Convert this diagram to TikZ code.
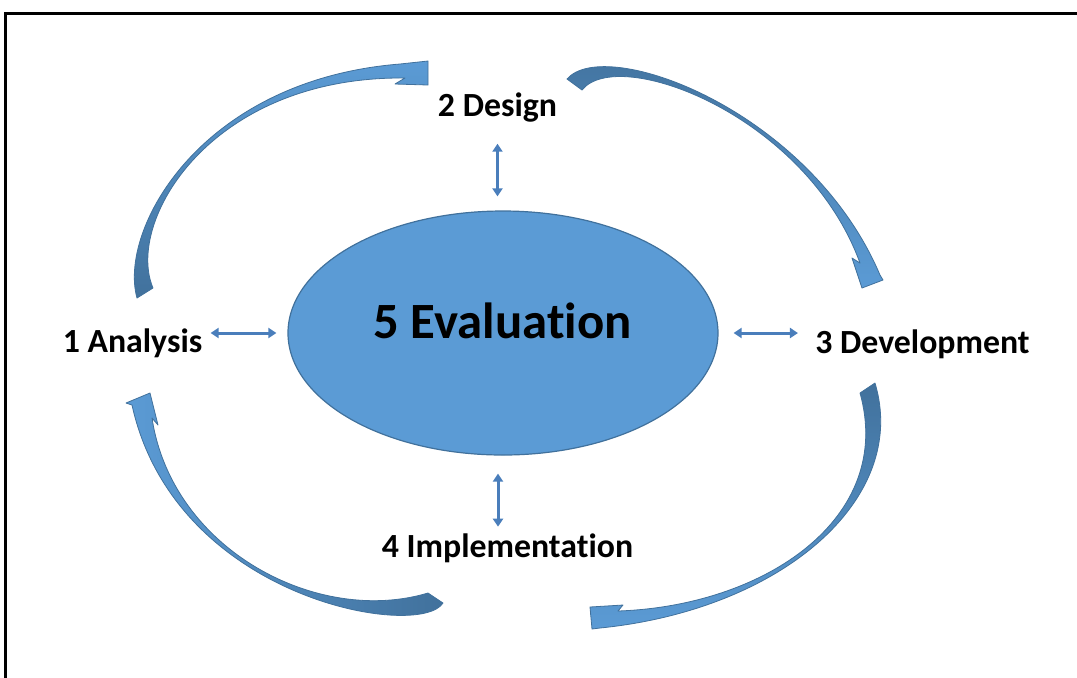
\documentclass[tikz,border=0pt]{standalone}
\usepackage{fontspec}
\setmainfont{Carlito}[Ligatures=NoCommon]
\usetikzlibrary{arrows.meta, positioning, shapes.geometric}

\definecolor{evalblue}{HTML}{5B9BD5}
\definecolor{rimblue}{HTML}{41719C}
\definecolor{linkblue}{HTML}{4A7EBB}

\tikzset{
  stage/.style={font=\fontsize{16.9}{20}\selectfont\bfseries, inner sep=0pt},
  hub/.style={ellipse, fill=evalblue, draw=rimblue, line width=0.6pt,
    minimum width=215pt, minimum height=122pt, inner sep=0pt},
  link/.style={draw=linkblue, line width=1.5pt,
    {Triangle[length=4pt,width=5pt]}-{Triangle[length=4pt,width=5pt]}},
  flow/.style={draw=rimblue, line width=0.4pt, line join=round}
}

\begin{document}
\begin{tikzpicture}[x=0.5pt, y=-0.5pt]
  \useasboundingbox (0,0) rectangle (1077,677);
  \draw[line width=1.5pt] (5.5,13.5) rectangle (1100,700);

  \node (eval) [hub] at (503,333) {};
  \node (evallabel) [node distance=6.25pt, above of=eval, xshift=-0.25pt,
    font=\fontsize{25.4}{30}\selectfont\bfseries, inner sep=0pt] {5 Evaluation};

  \node (design) [stage, node distance=112.7pt, above of=eval, xshift=-2.75pt] {2 Design};
  \node (analysis) [stage, node distance=185.25pt, left of=eval, yshift=-5.3pt] {1 Analysis};
  \node (dev) [stage, node distance=209.75pt, right of=eval, yshift=-5.8pt] {3 Development};
  \node (impl) [stage, node distance=107.8pt, below of=eval, xshift=2.25pt] {4 Implementation};

  % short links to the centre
  \draw[link, shorten <=10.5pt, shorten >=7pt] (design.south) -- (design.south |- eval.north);
  \draw[link, shorten <=9pt, shorten >=3.5pt]
    ([xshift=-4.75pt]impl.north |- eval.south) -- ([xshift=-4.75pt]impl.north);
  \draw[link, shorten <=4pt, shorten >=5.5pt] (analysis.east |- eval.west) -- (eval.west);
  \draw[link, shorten <=7.5pt, shorten >=8.5pt] (eval.east) -- (eval.east -| dev.west);

  % curved arrows round the cycle
  \draw[flow, bottom color=rimblue, top color=evalblue]
    (137,298) .. controls (118,230) and (200,80) .. (400,64) -- (428,61) -- (428,85)
    -- (395,84) -- (405,78) .. controls (210,76) and (125,222) .. (153,288) -- cycle;
  \draw[flow, top color=rimblue, bottom color=evalblue]
    (567,79) .. controls (605,35) and (810,110) .. (880,275) -- (883,280) -- (862,288)
    -- (852,258) -- (860,263) .. controls (806,115) and (618,45) .. (582,90) -- cycle;
  \draw[flow, top color=rimblue, bottom color=evalblue]
    (875,383) .. controls (910,500) and (780,610) .. (600,628) -- (592,629) -- (590,607)
    -- (623,605) -- (618,611) .. controls (765,606) and (895,518) .. (860,393) -- cycle;
  \draw[flow, right color=rimblue, left color=evalblue]
    (443,603) .. controls (420,640) and (175,600) .. (132,405) -- (126,403) -- (150,393)
    -- (158,425) -- (152,418) .. controls (172,550) and (318,626) .. (428,593) -- cycle;
\end{tikzpicture}
\end{document}
